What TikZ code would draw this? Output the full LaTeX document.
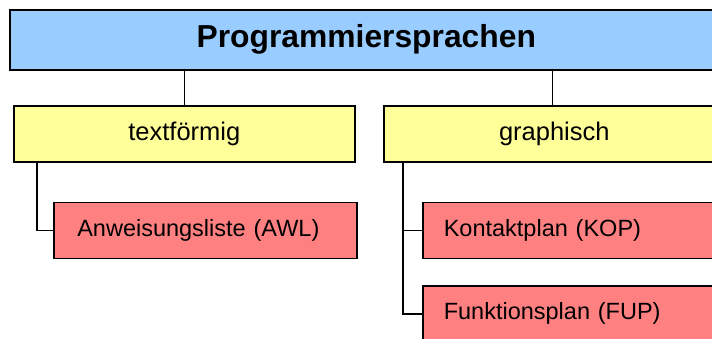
\documentclass[tikz,border=0pt]{standalone}
\usepackage{fontspec}
\setmainfont{Liberation Sans}
\usetikzlibrary{calc}
\definecolor{headblue}{HTML}{99CCFF}
\definecolor{groupyellow}{HTML}{FFFF99}
\definecolor{langred}{HTML}{FF8080}
\tikzset{
  box/.style={draw=black, line width=1.6pt, inner sep=0pt, anchor=north west},
  headbox/.style={box, fill=headblue, minimum width=713pt, minimum height=60pt,
    font=\fontsize{31.8}{36}\selectfont\bfseries},
  groupbox/.style={box, fill=groupyellow, minimum width=341pt, minimum height=56pt,
    font=\fontsize{25.5}{30}\selectfont},
  langbox/.style={box, fill=langred, minimum width=303pt, minimum height=56pt,
    text width=280pt, align=left, font=\fontsize{23.5}{28}\selectfont},
  link/.style={draw=black, line width=1.6pt}
}
\begin{document}
\begin{tikzpicture}[x=1pt, y=-1pt]
  \useasboundingbox (0,0) rectangle (712,338);
  \clip (0,0) rectangle (712,338);

  % header
  \node[headbox] (head) at (9,9) {Programmiersprachen};

  % groups
  \node[groupbox] (tf) at (13,105) {textförmig};
  \node[groupbox] (gr) at (383,105) {graphisch};

  % languages
  \node[langbox] (awl) at (53,201.5) {\hspace*{12pt}Anweisungsliste (AWL)};
  \node[langbox] (kop) at (422,201.5) {\hspace*{9.5pt}Kontaktplan (KOP)};
  \node[langbox] (fup) at (422,285) {\hspace*{9.5pt}Funktionsplan (FUP)};

  % connectors
  \draw[link] (tf.north) -- (tf.north |- head.south);
  \draw[link] ($(gr.north)+(-2,0)$) -- ($(gr.north |- head.south)+(-2,0)$);
  \coordinate (tfleg) at ($(tf.south west)+(24,0)$);
  \coordinate (grleg) at ($(gr.south west)+(20,0)$);
  \draw[link] (tfleg) |- (awl.west);
  \draw[link] (grleg) |- (kop.west);
  \draw[link] (grleg) |- (fup.west);
\end{tikzpicture}
\end{document}
